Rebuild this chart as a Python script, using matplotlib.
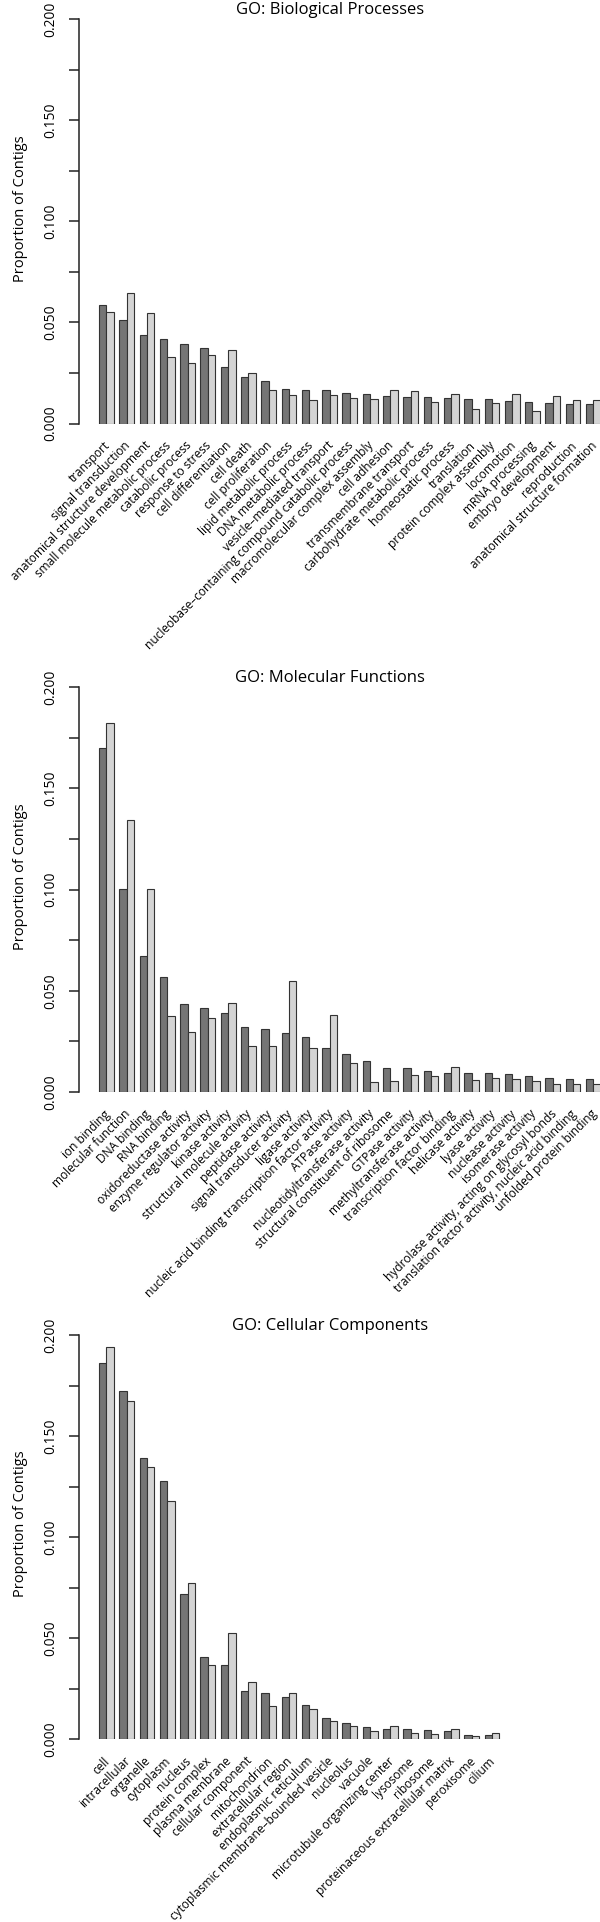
import matplotlib
matplotlib.use("Agg")
import matplotlib.pyplot as plt
import numpy as np

plt.rcParams['font.family'] = ['Open Sans', 'DejaVu Sans']

bp_labels = ["transport", "signal transduction", "anatomical structure development",
             "small molecule metabolic process", "catabolic process", "response to stress",
             "cell differentiation", "cell death", "cell proliferation", "lipid metabolic process",
             "DNA metabolic process", "vesicle–mediated transport",
             "nucleobase–containing compound catabolic process", "macromolecular complex assembly",
             "cell adhesion", "transmembrane transport", "carbohydrate metabolic process",
             "homeostatic process", "translation", "protein complex assembly", "locomotion",
             "mRNA processing", "embryo development", "reproduction", "anatomical structure formation"]
bp_dark = [0.0587, 0.0511, 0.0439, 0.0419, 0.0392, 0.0373, 0.0280, 0.0228, 0.0211, 0.0173,
           0.0167, 0.0165, 0.0150, 0.0145, 0.0135, 0.0132, 0.0129, 0.0127, 0.0119, 0.0119,
           0.0112, 0.0106, 0.0102, 0.0097, 0.0096]
bp_light = [0.0549, 0.0643, 0.0544, 0.0330, 0.0298, 0.0338, 0.0361, 0.0252, 0.0165, 0.0143,
            0.0115, 0.0142, 0.0125, 0.0122, 0.0165, 0.0162, 0.0106, 0.0145, 0.0071, 0.0099,
            0.0148, 0.0063, 0.0135, 0.0117, 0.0117]

mf_labels = ["ion binding", "molecular function", "DNA binding", "RNA binding",
             "oxidoreductase activity", "enzyme regulator activity", "kinase activity",
             "structural molecule activity", "peptidase activity", "signal transducer activity",
             "ligase activity", "nucleic acid binding transcription factor activity",
             "ATPase activity", "nucleotidyltransferase activity",
             "structural constituent of ribosome", "GTPase activity",
             "methyltransferase activity", "transcription factor binding", "helicase activity",
             "lyase activity", "nuclease activity", "isomerase activity",
             "hydrolase activity, acting on glycosyl bonds",
             "translation factor activity, nucleic acid binding", "unfolded protein binding"]
mf_dark = [0.1699, 0.1003, 0.0671, 0.0570, 0.0433, 0.0415, 0.0392, 0.0321, 0.0311, 0.0293,
           0.0273, 0.0216, 0.0188, 0.0152, 0.0119, 0.0117, 0.0102, 0.0096, 0.0092, 0.0092,
           0.0089, 0.0077, 0.0068, 0.0066, 0.0063]
mf_light = [0.1825, 0.1343, 0.1003, 0.0374, 0.0295, 0.0367, 0.0438, 0.0229, 0.0229, 0.0549,
            0.0216, 0.0382, 0.0145, 0.0049, 0.0053, 0.0082, 0.0077, 0.0125, 0.0059, 0.0071,
            0.0063, 0.0053, 0.0040, 0.0041, 0.0040]

cc_labels = ["cell", "intracellular", "organelle", "cytoplasm", "nucleus", "protein complex",
             "plasma membrane", "cellular component", "mitochondrion", "extracellular region",
             "endoplasmic reticulum", "cytoplasmic membrane–bounded vesicle", "nucleolus",
             "vacuole", "microtubule organizing center", "lysosome", "ribosome",
             "proteinaceous extracellular matrix", "peroxisome", "cilium"]
cc_dark = [0.1861, 0.1723, 0.1391, 0.1279, 0.0718, 0.0408, 0.0365, 0.0236, 0.0228, 0.0206,
           0.0167, 0.0104, 0.0079, 0.0058, 0.0051, 0.0051, 0.0046, 0.0038, 0.0021, 0.0018]
cc_light = [0.1939, 0.1675, 0.1347, 0.1180, 0.0772, 0.0366, 0.0525, 0.0282, 0.0162, 0.0229,
            0.0147, 0.0091, 0.0064, 0.0041, 0.0063, 0.0031, 0.0023, 0.0051, 0.0015, 0.0028]

titles = ["GO: Biological Processes", "GO: Molecular Functions", "GO: Cellular Components"]

W, H = 600, 1922
fig = plt.figure(figsize=(W / 100, H / 100), dpi=100)

# pixel layout of each panel: (top of axis = 0.2, bottom = 0.0)
panels = [(19, 423.5), (687.3, 1092), (1335, 1739)]
left_px, right_px = 79.3, 620
first_bar_px, group_px = 99, 20.29
bar_w = 0.365


def draw_panel(top, bottom, labels, dark, light, title):
    ax = fig.add_axes([left_px / W, 1 - bottom / H, (right_px - left_px) / W, (bottom - top) / H])
    x = np.arange(len(labels))
    ax.bar(x, dark, width=bar_w, align="edge", color="#757575", edgecolor="#333333", linewidth=0.8)
    ax.bar(x + bar_w, light, width=bar_w, align="edge", color="#d4d4d4", edgecolor="#333333", linewidth=0.8)
    ax.set_xlim(-(first_bar_px - left_px) / group_px, (right_px - first_bar_px) / group_px)
    ax.set_ylim(0, 0.2)
    for s in ["top", "right", "bottom"]:
        ax.spines[s].set_visible(False)
    ax.spines["left"].set_linewidth(1.1)
    ax.spines["left"].set_color("#222222")

    yt = np.arange(0, 0.2001, 0.025)
    ax.set_yticks(yt)
    ax.set_yticklabels(["%.3f" % v if i % 2 == 0 else "" for i, v in enumerate(yt)],
                       rotation=90, ha="center", va="center", fontsize=9.9)
    ax.tick_params(axis="y", length=7.2, width=1.1, color="#222222", pad=13.2)

    ax.set_xticks(x + bar_w + 0.08)
    ax.set_xticklabels(labels, rotation=45, ha="right", va="center",
                       rotation_mode="anchor", fontsize=8.6)
    ax.tick_params(axis="x", length=0, pad=14.5)

    mid = (top + bottom) / 2 - 13
    fig.text(21 / W, 1 - mid / H, "Proportion of Contigs", rotation=90,
             ha="center", va="center", fontsize=10.5)
    fig.text(330 / W, 1 - (top - 9) / H, title, ha="center", va="center", fontsize=12)


draw_panel(*panels[0], bp_labels, bp_dark, bp_light, titles[0])
draw_panel(*panels[1], mf_labels, mf_dark, mf_light, titles[1])
draw_panel(*panels[2], cc_labels, cc_dark, cc_light, titles[2])

fig.savefig("out.png", dpi=100, facecolor="white")
